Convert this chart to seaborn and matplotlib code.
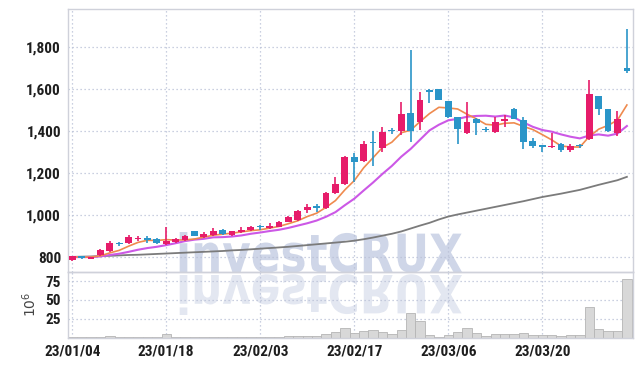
import numpy as np
import seaborn as sns
import matplotlib.pyplot as plt
from matplotlib.textpath import TextPath
from matplotlib.patches import PathPatch
from matplotlib.font_manager import FontProperties
from matplotlib.transforms import Affine2D
from matplotlib.ticker import FuncFormatter

# trading days (2023)
dates = ['2023-01-04', '2023-01-05', '2023-01-06', '2023-01-09', '2023-01-10', '2023-01-11',
         '2023-01-12', '2023-01-13', '2023-01-16', '2023-01-17', '2023-01-18', '2023-01-19',
         '2023-01-20', '2023-01-25', '2023-01-26', '2023-01-27', '2023-01-30', '2023-01-31',
         '2023-02-01', '2023-02-02', '2023-02-03', '2023-02-06', '2023-02-07', '2023-02-08',
         '2023-02-09', '2023-02-10', '2023-02-13', '2023-02-14', '2023-02-15', '2023-02-16',
         '2023-02-17', '2023-02-20', '2023-02-21', '2023-02-22', '2023-02-23', '2023-02-24',
         '2023-02-27', '2023-02-28', '2023-03-02', '2023-03-03', '2023-03-06', '2023-03-07',
         '2023-03-08', '2023-03-09', '2023-03-10', '2023-03-13', '2023-03-14', '2023-03-15',
         '2023-03-16', '2023-03-17', '2023-03-20', '2023-03-21', '2023-03-22', '2023-03-23',
         '2023-03-24', '2023-03-27', '2023-03-28', '2023-03-29', '2023-03-30', '2023-03-31']

opens = [786, 801, 792, 808, 828, 865, 867, 885, 893, 887, 862, 870, 880, 922, 896, 905, 928, 905, 918, 928,
         946, 940, 945, 968, 976, 1024, 1038, 1035, 1105, 1148, 1275, 1258, 1348, 1318, 1402, 1400, 1487, 1445, 1595, 1600,
         1543, 1465, 1392, 1458, 1410, 1397, 1448, 1505, 1452, 1352, 1333, 1322, 1336, 1312, 1330, 1360, 1567, 1505, 1392, 1698]
highs = [806, 803, 802, 840, 876, 872, 906, 900, 898, 890, 943, 890, 905, 924, 920, 938, 932, 926, 945, 948,
         953, 960, 970, 996, 1022, 1052, 1055, 1110, 1182, 1280, 1295, 1353, 1400, 1420, 1415, 1540, 1786, 1588, 1598, 1600,
         1545, 1467, 1540, 1462, 1420, 1465, 1476, 1508, 1468, 1365, 1335, 1389, 1345, 1340, 1338, 1643, 1567, 1507, 1497, 1885]
lows = [782, 793, 790, 806, 826, 852, 864, 878, 868, 862, 858, 866, 877, 898, 893, 902, 906, 902, 915, 925,
        928, 936, 942, 965, 972, 1008, 1015, 1030, 1100, 1145, 1158, 1255, 1235, 1300, 1385, 1380, 1350, 1405, 1535, 1546,
        1460, 1340, 1386, 1380, 1395, 1390, 1418, 1455, 1313, 1318, 1302, 1318, 1298, 1300, 1318, 1358, 1476, 1395, 1376, 1675]
closes = [803, 796, 800, 835, 868, 860, 895, 892, 883, 866, 878, 885, 898, 900, 912, 925, 910, 922, 930, 944,
          942, 950, 965, 992, 1018, 1038, 1034, 1105, 1150, 1275, 1255, 1340, 1343, 1397, 1400, 1480, 1400, 1548, 1588, 1548,
          1465, 1410, 1444, 1438, 1405, 1443, 1453, 1458, 1350, 1330, 1322, 1330, 1312, 1328, 1327, 1575, 1505, 1398, 1455, 1685]
# volume in millions of shares
volume = [0.3, 0.3, 0.3, 0.3, 2, 0.3, 0.3, 0.3, 0.3, 0.3, 4, 0.3, 0.3, 0.3, 0.3, 0.3, 0.3, 0.3, 0.3, 0.3,
          0.4, 0.4, 0.5, 1.5, 1.5, 1.5, 1.5, 5, 7.5, 12.5, 5.5, 8, 10.5, 7, 4.5, 10.5, 32.5, 22.5, 3, 1,
          3, 7, 12, 5.5, 2.5, 4.5, 4.5, 4.5, 5.5, 3, 3, 3, 1.5, 3, 3, 40, 11, 8.5, 8.5, 78]

# moving averages
ma5 = [801, 800, 800, 806, 820, 832, 852, 870, 880, 879, 883, 881, 882, 886, 895, 904, 909, 914, 920, 926,
       930, 938, 946, 959, 973, 993, 1009, 1037, 1069, 1120, 1164, 1225, 1273, 1322, 1347, 1392, 1404, 1445, 1483, 1513,
       1510, 1505, 1480, 1458, 1432, 1428, 1437, 1439, 1422, 1407, 1383, 1358, 1329, 1324, 1324, 1374, 1409, 1427, 1452, 1524]
ma10 = [800, 800, 800, 803, 810, 816, 825, 835, 843, 849, 857, 866, 876, 883, 887, 894, 895, 898, 903, 911,
        917, 924, 930, 939, 950, 961, 974, 992, 1014, 1047, 1078, 1117, 1155, 1196, 1234, 1278, 1315, 1359, 1403, 1430,
        1451, 1458, 1468, 1472, 1473, 1469, 1474, 1465, 1441, 1420, 1405, 1397, 1384, 1373, 1365, 1379, 1384, 1378, 1388, 1424]
ma60 = [801, 802, 803, 805, 806, 808, 810, 811, 813, 815, 817, 819, 821, 823, 825, 827, 829, 832, 834, 837,
        840, 843, 846, 849, 853, 857, 861, 865, 869, 873, 878, 885, 893, 902, 911, 922, 936, 950, 963, 979,
        993, 1003, 1012, 1021, 1030, 1039, 1048, 1057, 1066, 1076, 1086, 1094, 1102, 1111, 1120, 1132, 1144, 1155, 1166, 1182]

tick_every = 10

UP = '#e61c6a'
DOWN = '#2a95c8'
GRID = '#b9c0d6'
SPINE = '#cfd1da'

plt.rcParams['font.family'] = ['Roboto Condensed', 'DejaVu Sans']
plt.rcParams['mathtext.fontset'] = 'dejavusans'

W, H = 642, 366
fig = plt.figure(figsize=(W / 100, H / 100), dpi=100)
fig.patch.set_facecolor('white')
ax = fig.add_axes([68 / W, 94 / H, 565 / W, 263 / H])
axv = fig.add_axes([68 / W, 28.5 / H, 565 / W, 65.5 / H], sharex=ax)

o = np.array(opens, float)
c = np.array(closes, float)
x = np.arange(len(dates))
up = c >= o
cols = np.where(up, UP, DOWN)

# moving averages
sns.lineplot(x=x, y=ma60, ax=ax, color='#7b7b7b', lw=1.3, zorder=2)
sns.lineplot(x=x, y=ma10, ax=ax, color='#cc58e6', lw=1.5, zorder=2)
sns.lineplot(x=x, y=ma5, ax=ax, color='#ef8a4e', lw=1.2, zorder=2)

# candles
ax.vlines(x, lows, highs, colors=cols, lw=1.2, zorder=3)
body = np.maximum(np.abs(c - o), 7)
ax.bar(x, body, bottom=np.minimum(o, c), width=0.72, color=cols, zorder=4)

# volume
sns.barplot(x=x, y=volume, ax=axv, native_scale=True, width=1.0, color='#d8d8d8',
            edgecolor='#b5b5b5', linewidth=0.6, saturation=1, errorbar=None, zorder=2)

for a in (ax, axv):
    a.set_facecolor('none')
    a.grid(True, linestyle=(0, (1, 2.2)), color=GRID, lw=0.9)
    a.set_axisbelow(True)
    for s in a.spines.values():
        s.set_color(SPINE)
        s.set_linewidth(1.0)
    a.tick_params(length=0, labelsize=11, labelcolor='#1e1e1e')

ax.set_xlim(-0.45, 59.65)
ax.set_ylim(729, 1981)
ax.set_yticks([800, 1000, 1200, 1400, 1600, 1800])
ax.yaxis.set_major_formatter(FuncFormatter(lambda v, p: f'{v:,.0f}'))
ax.tick_params(axis='x', labelbottom=False)
ax.tick_params(axis='y', pad=5)
ax.set_xlabel('')
ax.set_ylabel('')

axv.set_ylim(0, 87)
axv.set_yticks([25, 50, 75])
axv.set_xticks(x[::tick_every])
axv.set_xticklabels([d[2:].replace('-', '/') for d in dates[::tick_every]])
axv.tick_params(axis='x', pad=5)
axv.tick_params(axis='y', pad=5)
axv.set_xlabel('')
axv.set_ylabel(r'$10^6$', fontsize=10, color='#444444', labelpad=5)
for a in (ax, axv):
    for lab in a.get_xticklabels() + a.get_yticklabels():
        lab.set_fontweight('bold')

# investCRUX watermark with mirror image
fp = FontProperties(family='DejaVu Sans', weight='bold')
tp = TextPath((0, 0), 'investCRUX', size=1, prop=fp)
v = tp.vertices
x0, x1 = v[:, 0].min(), v[:, 0].max()
ytop = v[:, 1].max()
sx = (462 - 176) / (x1 - x0)
sy = 40 / ytop
main_tr = Affine2D().translate(-x0, 0).scale(sx / W, sy / H).translate(176 / W, 94 / H) + fig.transFigure
refl_tr = Affine2D().translate(-x0, 0).scale(sx / W, -sy / H).translate(176 / W, 91 / H) + fig.transFigure
fig.add_artist(PathPatch(tp, transform=main_tr, fc='#cfd6e8', ec='none', zorder=-1))
fig.add_artist(PathPatch(tp, transform=refl_tr, fc='#e3e7f1', ec='none', zorder=-1))

fig.savefig('out.png', dpi=100, facecolor='white')
